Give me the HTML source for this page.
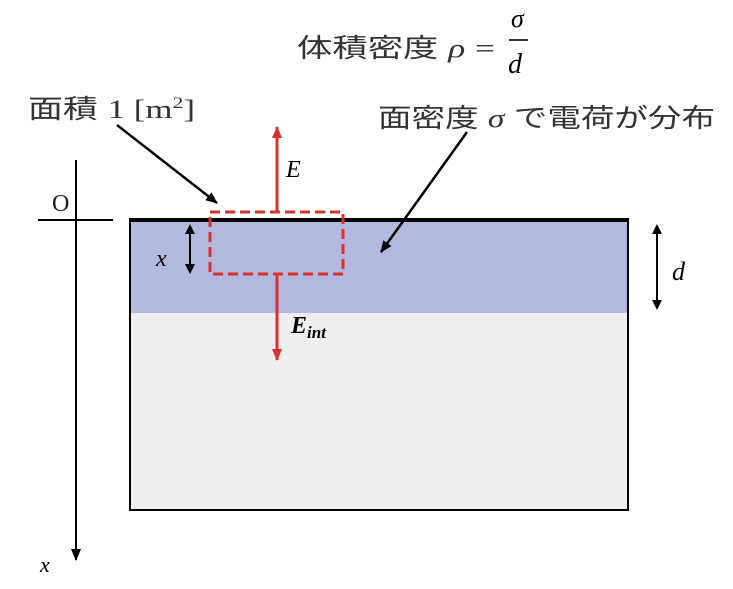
<!DOCTYPE html>
<html><head><meta charset="utf-8"><style>
body{margin:0;background:#fff;}
svg{display:block;}
text{font-family:"Liberation Serif","Noto Sans CJK JP",serif;}
.jp{font-family:"Liberation Sans","Noto Sans CJK JP",sans-serif;fill:#333;}
</style></head><body>
<svg width="733" height="589" viewBox="0 0 733 589">
<defs>
<marker id="ar" markerWidth="12" markerHeight="10" refX="11" refY="5" orient="auto" markerUnits="userSpaceOnUse"><path d="M0,0 L12,5 L0,10 z" fill="#d8322e"/></marker>
<marker id="ak" markerWidth="12" markerHeight="10" refX="11" refY="5" orient="auto" markerUnits="userSpaceOnUse"><path d="M0,0 L12,5 L0,10 z" fill="#000"/></marker>
</defs>
<rect x="130" y="220" width="498" height="290" fill="#efefef" stroke="#000" stroke-width="2"/>
<rect x="131" y="221" width="496" height="92" fill="#b3b8de"/>
<line x1="129" y1="220" x2="629" y2="220" stroke="#000" stroke-width="4"/>
<line x1="38" y1="220" x2="113" y2="220" stroke="#000" stroke-width="2"/>
<line x1="76" y1="160" x2="76" y2="560" stroke="#000" stroke-width="2" marker-end="url(#ak)"/>
<text x="52" y="211" font-family="Liberation Sans" font-size="24" fill="#222">O</text>
<text x="40" y="572" font-size="22" font-style="italic">x</text>
<line x1="277" y1="212" x2="277" y2="127" stroke="#d8322e" stroke-width="3" marker-end="url(#ar)"/>
<line x1="277" y1="274" x2="277" y2="360" stroke="#d8322e" stroke-width="3" marker-end="url(#ar)"/>
<rect x="210" y="212" width="133" height="62" fill="none" stroke="#d8322e" stroke-width="3" stroke-dasharray="10,5"/>
<text x="286" y="177" font-size="24" font-style="italic">E</text>
<text x="291" y="333" font-size="24" font-style="italic" font-weight="bold">E<tspan font-size="17" dy="5">int</tspan></text>
<line x1="117" y1="125" x2="217" y2="203" stroke="#000" stroke-width="2.5" marker-end="url(#ak)"/>
<line x1="467" y1="132" x2="381" y2="252" stroke="#000" stroke-width="2.5" marker-end="url(#ak)"/>
<line x1="190" y1="232" x2="190" y2="266" stroke="#000" stroke-width="2"/>
<path d="M185,234 L190,224 L195,234 z M185,264 L190,274 L195,264 z" fill="#000"/>
<text x="156" y="266" font-size="24" font-style="italic">x</text>
<line x1="657" y1="232" x2="657" y2="302" stroke="#000" stroke-width="2"/>
<path d="M652,234 L657,224 L662,234 z M652,300 L657,310 L662,300 z" fill="#000"/>
<text x="672" y="280" font-size="26" font-style="italic">d</text>
<text x="28" y="118" class="jp" font-size="26" textLength="167" lengthAdjust="spacingAndGlyphs">面積 <tspan font-family="Liberation Serif">1 [m<tspan font-size="16" dy="-10">2</tspan><tspan dy="10">]</tspan></tspan></text>
<text x="378" y="127" class="jp" font-size="26" textLength="337" lengthAdjust="spacingAndGlyphs">面密度 <tspan font-family="Liberation Serif" font-style="italic">σ</tspan> で電荷が分布</text>
<text x="297" y="57" class="jp" font-size="26" textLength="198" lengthAdjust="spacingAndGlyphs">体積密度 <tspan font-family="Liberation Serif" font-style="italic">ρ</tspan> <tspan font-family="Liberation Serif">=</tspan></text>
<text x="511" y="27" font-size="26" font-style="italic">σ</text>
<line x1="509" y1="40" x2="528" y2="40" stroke="#333" stroke-width="2"/>
<text x="508" y="73" font-size="28" font-style="italic">d</text>
</svg>
</body></html>
